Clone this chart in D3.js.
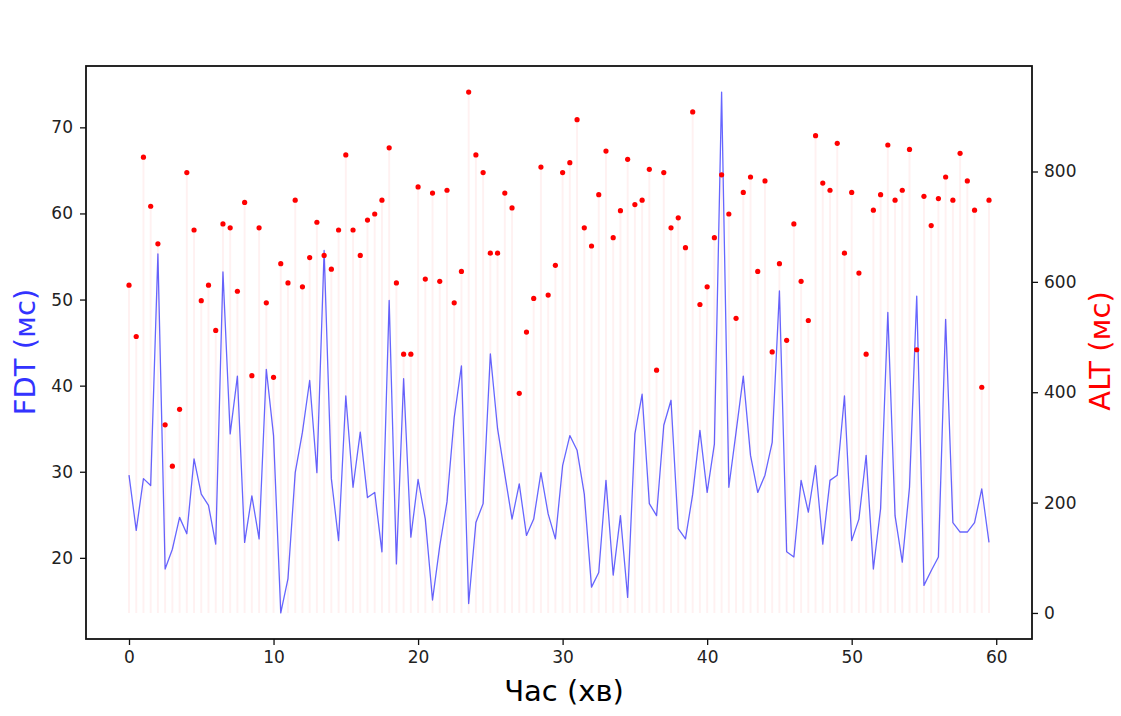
<!DOCTYPE html>
<html>
<head>
<meta charset="utf-8">
<script src="https://cdn.jsdelivr.net/npm/d3@7"></script>
<style>
  html, body { margin: 0; padding: 0; background: #ffffff; }
  svg { display: block; }
  text { font-family: "DejaVu Sans", sans-serif; }
</style>
</head>
<body>
<svg id="chart" width="1121" height="716"></svg>
<script>
// ---- data (time in minutes, FDT and ALT in ms) ----
const timeMin = [
  0, 0.5, 1, 1.5, 2, 2.5, 3, 3.5, 4, 4.5, 5, 5.5, 6, 6.5, 7, 7.5, 8, 8.5, 9, 9.5,
  10, 10.5, 11, 11.5, 12, 12.5, 13, 13.5, 14, 14.5, 15, 15.5, 16, 16.5, 17, 17.5, 18, 18.5, 19, 19.5,
  20, 20.5, 21, 21.5, 22, 22.5, 23, 23.5, 24, 24.5, 25, 25.5, 26, 26.5, 27, 27.5, 28, 28.5, 29, 29.5,
  30, 30.5, 31, 31.5, 32, 32.5, 33, 33.5, 34, 34.5, 35, 35.5, 36, 36.5, 37, 37.5, 38, 38.5, 39, 39.5,
  40, 40.5, 41, 41.5, 42, 42.5, 43, 43.5, 44, 44.5, 45, 45.5, 46, 46.5, 47, 47.5, 48, 48.5, 49, 49.5,
  50, 50.5, 51, 51.5, 52, 52.5, 53, 53.5, 54, 54.5, 55, 55.5, 56, 56.5, 57, 57.5, 58, 58.5, 59, 59.5
];
const fdtValues = [
  29.6, 23.2, 29.2, 28.4, 55.3, 18.7, 21.0, 24.7, 22.8, 31.5,
  27.4, 26.1, 21.6, 53.2, 34.4, 41.1, 21.8, 27.2, 22.2, 41.9,
  34.2, 13.6, 17.6, 29.9, 34.6, 40.6, 29.9, 55.7, 29.2, 22.0,
  38.8, 28.2, 34.6, 27.0, 27.6, 20.7, 49.9, 19.3, 40.8, 22.4,
  29.1, 24.5, 15.1, 21.4, 26.5, 36.3, 42.3, 14.7, 24.1, 26.3,
  43.7, 35.0, 29.7, 24.5, 28.6, 22.6, 24.5, 29.9, 25.1, 22.2,
  30.7, 34.2, 32.5, 27.4, 16.6, 18.3, 29.0, 18.0, 24.9, 15.4,
  34.4, 39.0, 26.3, 24.9, 35.4, 38.3, 23.4, 22.2, 27.4, 34.8,
  27.6, 33.2, 74.1, 28.2, 34.6, 41.1, 31.9, 27.6, 29.6, 33.4,
  51.0, 20.7, 20.1, 29.0, 25.3, 30.7, 21.6, 29.0, 29.6, 38.8,
  22.0, 24.5, 31.9, 18.7, 25.7, 48.5, 24.9, 19.5, 28.2, 50.4,
  16.8, 18.5, 20.1, 47.7, 24.1, 23.0, 23.0, 24.1, 28.0, 21.8
];
const altValues = [
  594, 501, 826, 737, 669, 341, 266, 369, 798, 694,
  566, 594, 512, 705, 698, 583, 744, 430, 698, 562,
  427, 633, 598, 748, 591, 644, 708, 648, 623, 694,
  830, 694, 648, 712, 723, 748, 843, 598, 469, 469,
  772, 605, 761, 601, 766, 562, 619, 944, 830, 798,
  652, 652, 761, 734, 398, 509, 570, 808, 576, 630,
  798, 816, 894, 698, 665, 758, 837, 680, 729, 822,
  740, 748, 804, 440, 798, 698, 716, 662, 908, 559,
  591, 680, 794, 723, 534, 762, 790, 619, 783, 473,
  633, 494, 705, 601, 530, 865, 779, 766, 851, 652,
  762, 616, 469, 730, 758, 848, 748, 766, 840, 477,
  755, 702, 751, 790, 748, 833, 783, 730, 409, 748
];
const xTicks = [0, 10, 20, 30, 40, 50, 60];
const fdtTicks = [20, 30, 40, 50, 60, 70];
const altTicks = [0, 200, 400, 600, 800];
const xTitle = "Час (хв)";
const fdtTitle = "FDT (мс)";
const altTitle = "ALT (мс)";

// ---- layout ----
const plot = { left: 86, right: 1032, top: 66, bottom: 639 };
const svg = d3.select("#chart");

function padded(lo, hi) { const m = (hi - lo) * 0.05; return [lo - m, hi + m]; }

const x = d3.scaleLinear()
  .domain(padded(d3.min(timeMin), d3.max(timeMin)))
  .range([plot.left, plot.right]);
const yL = d3.scaleLinear()
  .domain(padded(d3.min(fdtValues), d3.max(fdtValues)))
  .range([plot.bottom, plot.top]);
const yR = d3.scaleLinear()
  .domain(padded(0, d3.max(altValues)))
  .range([plot.bottom, plot.top]);

const rows = timeMin.map((t, i) => ({ t, fdt: fdtValues[i], alt: altValues[i] }));

// stems for ALT
svg.append("g").selectAll("line").data(rows).join("line")
  .attr("x1", d => x(d.t)).attr("x2", d => x(d.t))
  .attr("y1", yR(0)).attr("y2", d => yR(d.alt))
  .attr("stroke", "#ff0000").attr("stroke-opacity", 0.055).attr("stroke-width", 2);

// FDT line
svg.append("path").datum(rows)
  .attr("fill", "none").attr("stroke", "#0000ff").attr("stroke-opacity", 0.6)
  .attr("stroke-width", 1.3).attr("stroke-linejoin", "round")
  .attr("d", d3.line().x(d => x(d.t)).y(d => yL(d.fdt)));

// ALT dots
svg.append("g").selectAll("circle").data(rows).join("circle")
  .attr("cx", d => x(d.t)).attr("cy", d => yR(d.alt)).attr("r", 2.6)
  .attr("fill", "#ff0000");

// axes
const tickFont = 17;
const gx = svg.append("g").attr("transform", `translate(0,${plot.bottom})`)
  .call(d3.axisBottom(x).tickValues(xTicks).tickSize(6).tickPadding(6).tickFormat(d3.format("d")));
const gl = svg.append("g").attr("transform", `translate(${plot.left},0)`)
  .call(d3.axisLeft(yL).tickValues(fdtTicks).tickSize(6).tickPadding(7).tickFormat(d3.format("d")));
const gr = svg.append("g").attr("transform", `translate(${plot.right},0)`)
  .call(d3.axisRight(yR).tickValues(altTicks).tickSize(6).tickPadding(6).tickFormat(d3.format("d")));
[gx, gl, gr].forEach(g => {
  g.select(".domain").remove();
  g.selectAll(".tick line").attr("stroke", "#111").attr("stroke-width", 1.3);
  g.selectAll(".tick text").attr("font-size", tickFont).attr("fill", "#222")
    .attr("font-family", "DejaVu Sans");
});

// frame
svg.append("rect")
  .attr("x", plot.left).attr("y", plot.top)
  .attr("width", plot.right - plot.left).attr("height", plot.bottom - plot.top)
  .attr("fill", "none").attr("stroke", "#111").attr("stroke-width", 1.8);

// titles
svg.append("text").text(xTitle)
  .attr("x", (plot.left + plot.right) / 2 + 5).attr("y", 701)
  .attr("text-anchor", "middle").attr("font-size", 29).attr("fill", "#000");
svg.append("text").text(fdtTitle)
  .attr("transform", `translate(35,352) rotate(-90)`)
  .attr("text-anchor", "middle").attr("font-size", 29).attr("fill", "#3333ff");
svg.append("text").text(altTitle)
  .attr("transform", `translate(1110,351) rotate(-90)`)
  .attr("text-anchor", "middle").attr("font-size", 29).attr("fill", "#ff0000");
</script>
</body>
</html>
